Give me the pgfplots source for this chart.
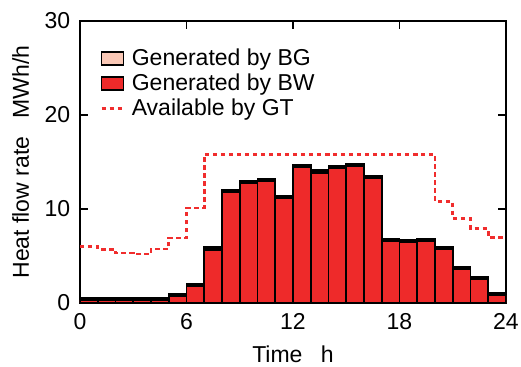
\documentclass[border=0pt]{standalone}
\usepackage{fontspec}
\setmainfont{Liberation Sans}
\usepackage{pgfplots}
\usepackage{pgfplotstable}
\pgfplotsset{compat=1.18}
\definecolor{bwred}{RGB}{238,42,42}
\definecolor{bgpink}{RGB}{250,200,182}
\definecolor{gtred}{RGB}{240,45,45}
% h = bar centre, tot = BW+BG, bw = BW
\pgfplotstableread{
h tot bw
0.5 0.59 0.34
1.5 0.59 0.34
2.5 0.59 0.34
3.5 0.59 0.34
4.5 0.52 0.27
5.5 1.02 0.77
6.5 2.02 1.77
7.5 5.92 5.67
8.5 12.02 11.77
9.5 12.97 12.72
10.5 13.22 12.97
11.5 11.37 11.12
12.5 14.67 14.42
13.5 14.12 13.87
14.5 14.57 14.32
15.5 14.77 14.52
16.5 13.52 13.27
17.5 6.82 6.57
18.5 6.72 6.47
19.5 6.82 6.57
20.5 6.02 5.77
21.5 3.82 3.57
22.5 2.82 2.57
23.5 1.12 0.87
}\gen
\pgfplotstableread{
h gt
0 6.0
1 5.7
2 5.3
3 5.2
4 5.75
5 6.9
6 10.1
7 15.8
8 15.8
9 15.8
10 15.8
11 15.8
12 15.8
13 15.8
14 15.8
15 15.8
16 15.8
17 15.8
18 15.8
19 15.8
20 10.8
21 9.0
22 7.9
23 7.0
24 7.0
}\gt
\begin{document}
\fontsize{23bp}{27bp}\selectfont
\begin{tikzpicture}
\useasboundingbox (-80bp,-64bp) rectangle (441bp,303bp);
\begin{axis}[
  at={(0,0)}, anchor=south west,
  scale only axis, width=426bp, height=282bp,
  xmin=0, xmax=24, ymin=0, ymax=30,
  xtick={0,6,12,18,24}, ytick={0,10,20,30},
  tick align=inside, tick pos=both,
  major tick length=8bp,
  axis line style={line width=1.8bp},
  every tick/.style={black, line width=1.3bp},
  /pgf/number format/assume math mode=true,
  xlabel={Time\hspace{0.8em}h},
  ylabel={Heat flow rate\hspace{0.8em}MWh/h},
  xticklabel style={yshift=-3bp},
  yticklabel style={xshift=-2bp},
  legend style={at={(0.047,0.91)}, anchor=north west, draw=none, fill=none,
    inner sep=0pt, row sep=0.8bp, column sep=0pt,
    nodes={inner sep=2bp, anchor=west},
    /tikz/every odd column/.append style={column sep=5bp}},
  legend cell align=left,
]
\addlegendimage{legend image code/.code={\draw[fill=bgpink,draw=black,line width=1.3bp] (0bp,-6.5bp) rectangle (22bp,6.5bp);}}
\addlegendimage{legend image code/.code={\draw[fill=bwred,draw=black,line width=1.3bp] (0bp,-6.5bp) rectangle (22bp,6.5bp);}}
\addplot[ybar, bar width=17.75bp, bar shift=0pt, fill=black, draw=black, line width=1.8bp, forget plot] table[x=h, y=tot] {\gen};
\addplot[ybar, bar width=17.75bp, bar shift=0pt, fill=bwred, draw=black, line width=1.8bp, forget plot] table[x=h, y=bw] {\gen};
\addplot[const plot, gtred, line width=2.6bp, dash pattern=on 4.5bp off 3.5bp,
  legend image code/.code={\draw[gtred, line width=2.6bp, dash pattern=on 4.5bp off 3.5bp] (0bp,0bp) -- (22bp,0bp);}]
  table[x=h, y=gt] {\gt};
\legend{Generated by BG, Generated by BW, Available by GT}
\end{axis}
\end{tikzpicture}
\end{document}
